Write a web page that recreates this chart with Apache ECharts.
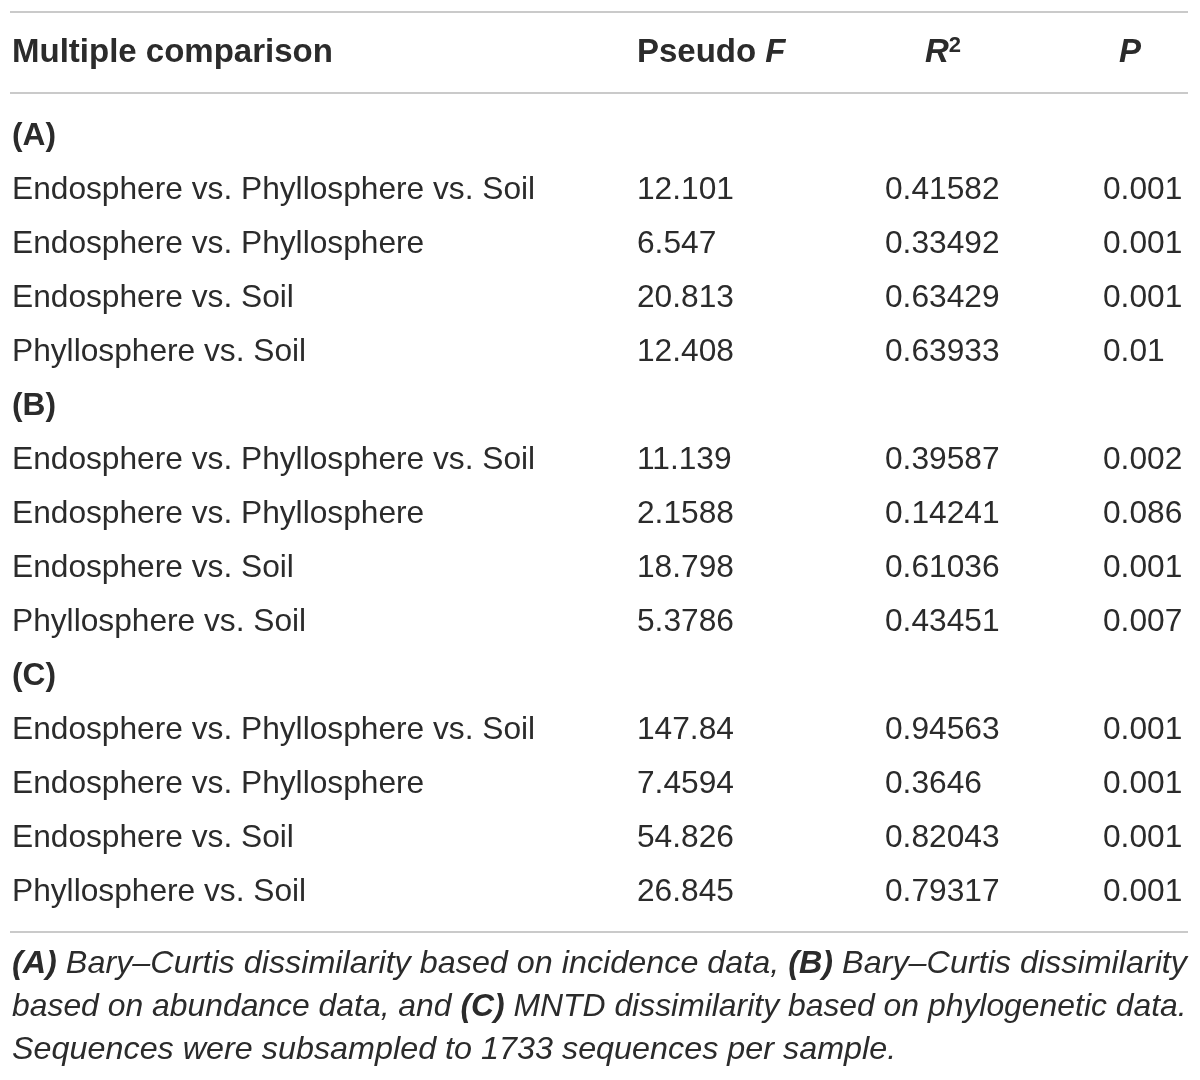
<!DOCTYPE html>
<html>
<head>
<meta charset="utf-8">
<script src="https://cdn.jsdelivr.net/npm/echarts@6/dist/echarts.min.js"></script>
<style>
html,body{margin:0;padding:0;background:#fff;}
#main{width:1200px;height:1080px;}
</style>
</head>
<body>
<div id="main"></div>
<script>
// ---- data ----
var groups = ['(A)', '(B)', '(C)'];
var comparisons = [
  'Endosphere vs. Phyllosphere vs. Soil',
  'Endosphere vs. Phyllosphere',
  'Endosphere vs. Soil',
  'Phyllosphere vs. Soil'
];
var pseudoF_A = ['12.101', '6.547', '20.813', '12.408'];
var pseudoF_B = ['11.139', '2.1588', '18.798', '5.3786'];
var pseudoF_C = ['147.84', '7.4594', '54.826', '26.845'];
var r2_A = ['0.41582', '0.33492', '0.63429', '0.63933'];
var r2_B = ['0.39587', '0.14241', '0.61036', '0.43451'];
var r2_C = ['0.94563', '0.3646', '0.82043', '0.79317'];
var p_A = ['0.001', '0.001', '0.001', '0.01'];
var p_B = ['0.002', '0.086', '0.001', '0.007'];
var p_C = ['0.001', '0.001', '0.001', '0.001'];
var headers = ['Multiple comparison', 'Pseudo F', 'R2', 'P'];
var footnoteLines = [
  '{bi|(A)}{i| Bary–Curtis dissimilarity based on incidence data, }{bi|(B)}{i| Bary–Curtis dissimilarity}',
  '{i|based on abundance data, and }{bi|(C)}{i| MNTD dissimilarity based on phylogenetic data.}',
  '{i|Sequences were subsampled to 1733 sequences per sample.}'
];

// ---- build table ----
var FONT = '"Liberation Sans", Arial, sans-serif';
var TXT = '#2b2b2b';
var colX = [12, 637, 885, 1103];
var fVals = [pseudoF_A, pseudoF_B, pseudoF_C];
var rVals = [r2_A, r2_B, r2_C];
var pVals = [p_A, p_B, p_C];
var rowNames = [];
var cells = [];
groups.forEach(function (g, gi) {
  var r = rowNames.length;
  rowNames.push(g);
  cells.push({ value: [0, r], text: g, bold: true });
  comparisons.forEach(function (c, ci) {
    var rr = rowNames.length;
    rowNames.push(g + ' ' + c);
    cells.push({ value: [0, rr], text: c });
    cells.push({ value: [1, rr], text: fVals[gi][ci] });
    cells.push({ value: [2, rr], text: rVals[gi][ci] });
    cells.push({ value: [3, rr], text: pVals[gi][ci] });
  });
});

var chart = echarts.init(document.getElementById('main'), null, { renderer: 'canvas' });

function hline(y) {
  return { type: 'line', shape: { x1: 10, y1: y, x2: 1188, y2: y }, style: { stroke: '#cacaca', lineWidth: 2 }, silent: true };
}

var graphics = [hline(12), hline(93), hline(932)];
var hdrRich = {
  b: { fontFamily: FONT, fontSize: 33, fontWeight: 'bold', fill: TXT },
  bi: { fontFamily: FONT, fontSize: 33, fontWeight: 'bold', fontStyle: 'italic', fill: TXT },
  sup: { fontFamily: FONT, fontSize: 22, fontWeight: 'bold', fill: TXT, verticalAlign: 'top', padding: [0, 0, 14, 0] }
};
var HY = 53;
graphics.push({ type: 'text', style: { x: 12, y: HY, text: '{b|' + headers[0] + '}', rich: hdrRich, align: 'left', verticalAlign: 'middle' } });
graphics.push({ type: 'text', style: { x: 637, y: HY, text: '{b|Pseudo }{bi|F}', rich: hdrRich, align: 'left', verticalAlign: 'middle' } });
graphics.push({ type: 'text', style: { x: 943, y: HY, text: '{bi|R}{sup|2}', rich: hdrRich, align: 'center', verticalAlign: 'middle' } });
graphics.push({ type: 'text', style: { x: 1130, y: HY, text: '{bi|' + headers[3] + '}', rich: hdrRich, align: 'center', verticalAlign: 'middle' } });

var fnRich = {
  i: { fontFamily: FONT, fontSize: 30.5, fontStyle: 'italic', fill: TXT },
  bi: { fontFamily: FONT, fontSize: 30.5, fontStyle: 'italic', fontWeight: 'bold', fill: TXT }
};
var fnY = [965, 1008, 1051];
var fnScale = [1.06, 1.045, 1.06];
footnoteLines.forEach(function (t, i) {
  graphics.push({
    type: 'text', x: 12, y: fnY[i], scaleX: fnScale[i],
    style: { x: 0, y: 0, text: t, rich: fnRich, align: 'left', verticalAlign: 'middle' }
  });
});

chart.setOption({
  animation: false,
  backgroundColor: '#ffffff',
  grid: { left: 0, right: 0, top: 109, height: 810 },
  xAxis: { type: 'category', data: [0, 1, 2, 3], show: false },
  yAxis: { type: 'category', data: rowNames, inverse: true, show: false },
  graphic: graphics,
  series: [{
    type: 'custom',
    data: cells,
    renderItem: function (params, api) {
      var item = cells[params.dataIndex];
      var y = api.coord([0, api.value(1)])[1];
      return {
        type: 'text',
        style: {
          x: colX[api.value(0)],
          y: y,
          text: item.text,
          fill: TXT,
          fontFamily: FONT,
          fontSize: 31.7,
          fontWeight: item.bold ? 'bold' : 'normal',
          align: 'left',
          verticalAlign: 'middle'
        }
      };
    }
  }]
});
</script>
</body>
</html>
